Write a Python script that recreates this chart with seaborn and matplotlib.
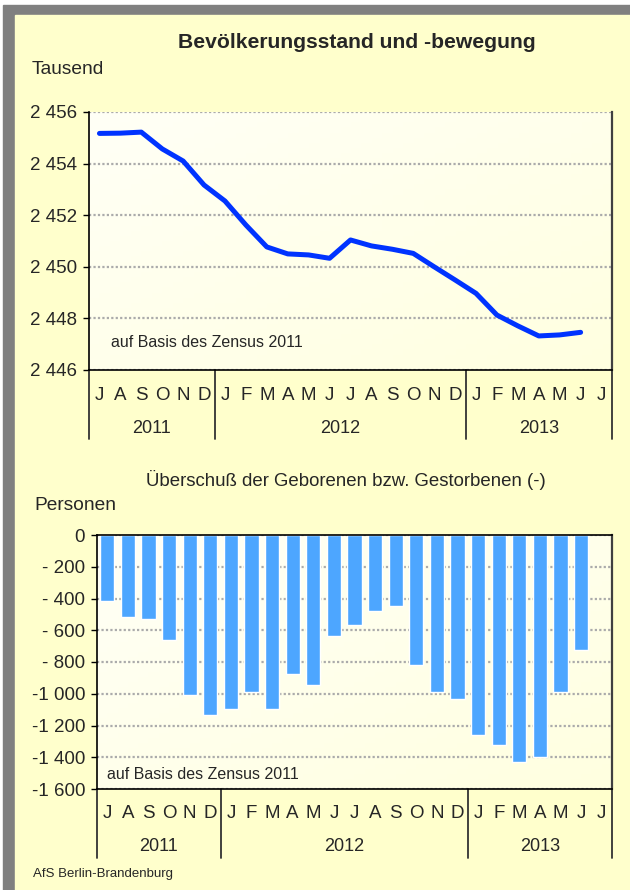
import numpy as np
import pandas as pd
import seaborn as sns
import matplotlib.pyplot as plt
from matplotlib.patches import Rectangle
from matplotlib.colors import LinearSegmentedColormap

sns.set_style('white')
plt.rcParams['font.family'] = ['Liberation Sans', 'DejaVu Sans']

# month slots Jul 2011 .. Jul 2013 (last slot empty)
months = ['J', 'A', 'S', 'O', 'N', 'D',
          'J', 'F', 'M', 'A', 'M', 'J', 'J', 'A', 'S', 'O', 'N', 'D',
          'J', 'F', 'M', 'A', 'M', 'J', 'J']
years = ['2011', '2012', '2013']
year_start = [0, 6, 18]
year_end = [5, 17, 24]

# Bevoelkerungsstand in Tausend, Jul 2011 .. Jun 2013
population = [2455.17, 2455.18, 2455.22, 2454.57, 2454.10, 2453.17,
              2452.55, 2451.62, 2450.77, 2450.50, 2450.46, 2450.33,
              2451.04, 2450.81, 2450.68, 2450.52, 2450.00, 2449.49,
              2448.97, 2448.13, 2447.71, 2447.32, 2447.36, 2447.46]

# Ueberschuss der Geborenen bzw. Gestorbenen, Personen
surplus = [-413, -514, -527, -659, -1007, -1131,
           -1093, -986, -1099, -873, -942, -634,
           -564, -476, -445, -816, -986, -1036,
           -1257, -1320, -1433, -1401, -986, -722]

top_ticks = [2446, 2448, 2450, 2452, 2454, 2456]
top_ticklabels = ['2 446', '2 448', '2 450', '2 452', '2 454', '2 456']
bot_ticks = [0, -200, -400, -600, -800, -1000, -1200, -1400, -1600]
bot_ticklabels = ['0', '- 200', '- 400', '- 600', '- 800',
                  '-1 000', '-1 200', '-1 400', '-1 600']

W, H = 630, 890
def fx(x): return x / W
def fy(y): return 1 - y / H

fig = plt.figure(figsize=(6.3, 8.9), dpi=100)
fig.patch.set_facecolor('white')
fig.patches.append(Rectangle((fx(3), 0), 1, fy(5), transform=fig.transFigure,
                             color='#808080', zorder=-10))
fig.patches.append(Rectangle((fx(15), 0), 1, fy(15), transform=fig.transFigure,
                             color='#FFFFCC', zorder=-9))

bg = LinearSegmentedColormap.from_list('bg', ['#FFFFF6', '#FFFFE0'])
grad = np.add.outer(np.linspace(0, 1, 50), np.linspace(0, 1, 50)) / 2


def style_axis(ax, ymin, ymax, ticks, labels, sep_drop, top_solid):
    ax.set_xlim(-0.5, 24.5)
    ax.set_ylim(ymin, ymax)
    ax.imshow(grad, extent=(-0.5, 24.5, ymin, ymax), aspect='auto',
              cmap=bg, zorder=0, origin='upper')
    ax.set_axisbelow(True)
    ax.yaxis.grid(True, color='#ABABAB', linestyle=(0, (1, 1)), linewidth=1.6)
    ax.set_yticks(ticks)
    ax.set_yticklabels(labels)
    ax.set_xticks([])
    ax.tick_params(axis='y', direction='out', length=4.5, width=1,
                   color='black', pad=4, labelsize=13.5, left=True)
    ax.set_xlabel('')
    ax.set_ylabel('')
    for s in ['left', 'bottom']:
        ax.spines[s].set_color('black')
        ax.spines[s].set_linewidth(1.2)
    ax.spines['right'].set_color('#404040')
    ax.spines['right'].set_linewidth(1.6)
    ax.spines['top'].set_visible(top_solid)
    ax.spines['top'].set_color('black')
    ax.spines['top'].set_linewidth(1.2)
    xt = ax.get_xaxis_transform()
    for i, m in enumerate(months):
        ax.text(i, -0.097, m, transform=xt, ha='center', va='center',
                fontsize=13.5)
    for yr, a, b in zip(years, year_start, year_end):
        ax.text((a + b) / 2, -0.227, yr, transform=xt, ha='center',
                va='center', fontsize=13)
    for xs in [-0.5, 5.5, 17.5, 24.5]:
        ax.plot([xs, xs], [0, -sep_drop], transform=xt, color='#333333',
                lw=1.3, clip_on=False)


# top chart: Bevoelkerungsstand
ax1 = fig.add_axes([fx(89), fy(370), (612 - 89) / W, (370 - 112) / H])
sns.lineplot(x=np.arange(len(population)), y=population, ax=ax1,
             color='#0033FF', linewidth=3.6, solid_capstyle='round')
style_axis(ax1, 2446, 2456, top_ticks, top_ticklabels, 69 / 258, False)
ax1.text(0.042, 0.105, 'auf Basis des Zensus 2011', transform=ax1.transAxes,
         fontsize=11.5, va='center', ha='left')

# bottom chart: Ueberschuss
ax2 = fig.add_axes([fx(97), fy(789), (612 - 97) / W, (789 - 535) / H])
df = pd.DataFrame({'slot': np.arange(len(surplus)), 'value': surplus})
sns.barplot(data=df, x='slot', y='value', ax=ax2, color='#4DA6FF',
            saturation=1, width=0.68)
style_axis(ax2, -1600, 0, bot_ticks, bot_ticklabels, 69 / 254, True)
ax2.text(0.019, 0.059, 'auf Basis des Zensus 2011', transform=ax2.transAxes,
         fontsize=11.5, va='center', ha='left')

fig.text(fx(357), fy(43), 'Bevölkerungsstand und -bewegung', ha='center',
         va='center', fontsize=15.2, fontweight='bold')
fig.text(fx(32), fy(70), 'Tausend', ha='left', va='center', fontsize=13.8)
fig.text(fx(346), fy(480), 'Überschuß der Geborenen bzw. Gestorbenen (-)',
         ha='center', va='center', fontsize=13.4)
fig.text(fx(34), fy(505), 'Personen', ha='left', va='center', fontsize=13.8)
fig.text(fx(33), fy(874), 'AfS Berlin-Brandenburg', ha='left', va='center',
         fontsize=9.5)

fig.savefig('out.png', dpi=100)
